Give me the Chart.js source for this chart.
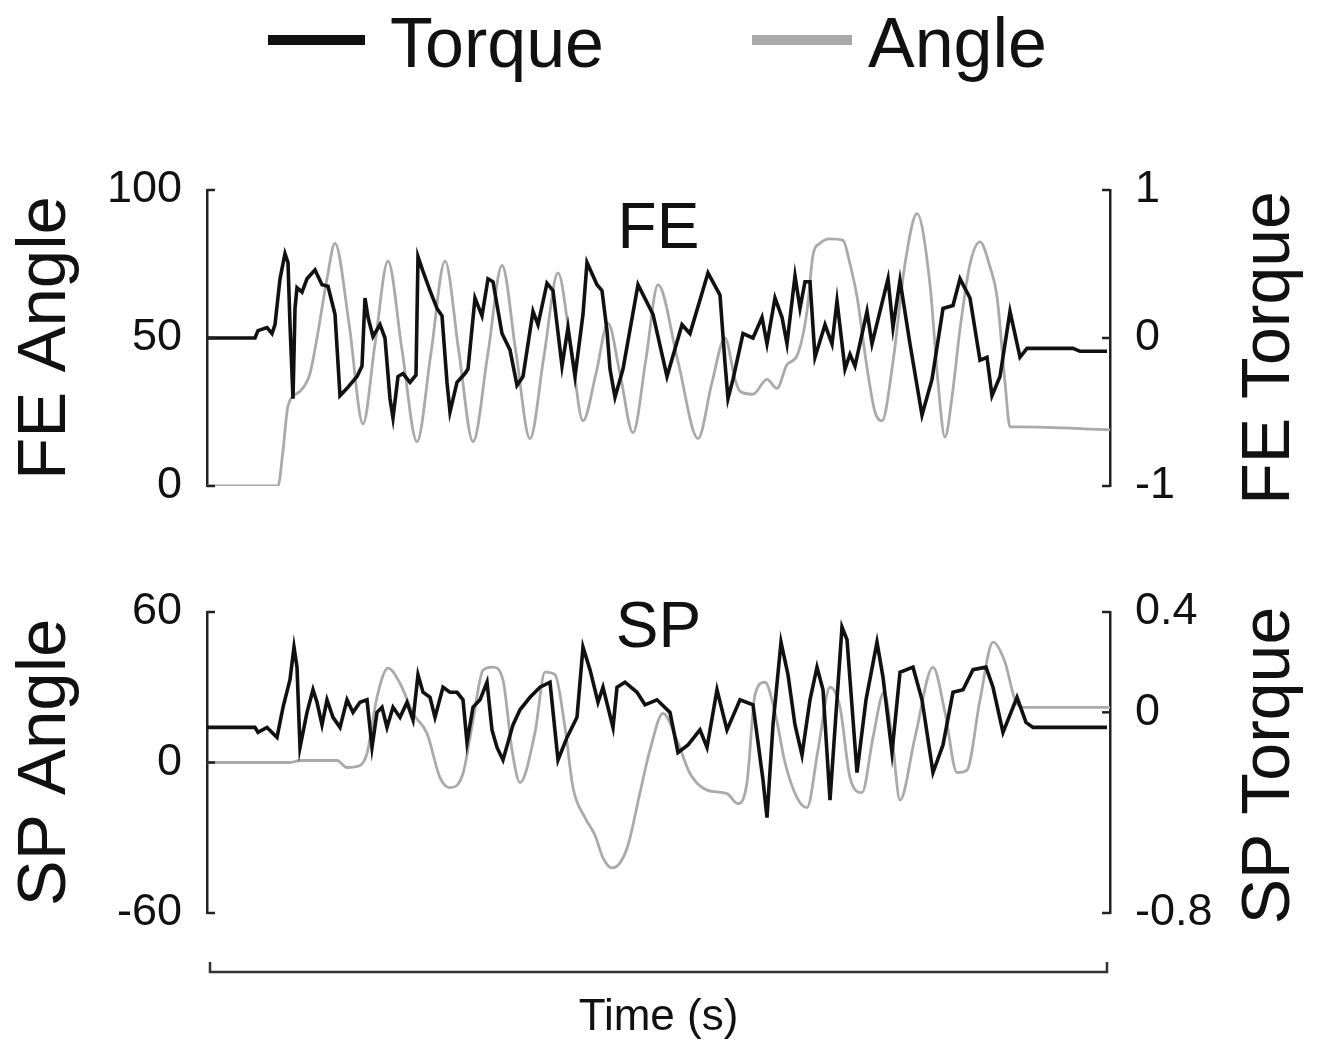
<!DOCTYPE html>
<html lang="en">
<head>
    <meta charset="UTF-8">
    <title>Torque and angle</title>
    <style>
        body { margin: 0; background: #fff; font-family: "Liberation Sans", Arial, sans-serif; }
        #app { position: relative; width: 1328px; height: 1048px; overflow: hidden; }
        .swatch { position: absolute; top: 35px; height: 10px; }
        .label { position: absolute; top: 8px; font-size: 70px; line-height: 70px; color: #111; }
        #fe_box { position: absolute; left: 0; top: 0; }
        #sp_box { position: absolute; left: 0; top: 530px; }
    </style>
</head>
<body>
<div id="app">
    <div class="swatch" style="left:268px; width:97px; background:#111;"></div>
    <div class="label" style="left:390px;">Torque</div>
    <div class="swatch" style="left:752px; width:100px; background:#aaa;"></div>
    <div class="label" style="left:868px;">Angle</div>

    <div id="fe_box"><canvas id="fe_chart" width="1328" height="530"></canvas></div>
    <div id="sp_box"><canvas id="sp_chart" width="1328" height="518"></canvas></div>
</div>

<script src="https://cdn.jsdelivr.net/npm/chart.js"></script>
<script>
    // time in s
    var feAngleTime = [0, 7.1, 7.6, 8.1, 9.3, 10.3, 11.0, 12.0, 12.8, 14.2, 15.6, 16.8, 18.1, 19.5, 21.0, 22.4, 23.8, 25.2, 26.6,
        28.1, 29.5, 30.9, 32.3, 33.7, 35.1, 36.4, 37.6, 38.9, 40.1, 41.3, 42.6, 43.9, 45.1, 47.1, 49.1, 50.5, 51.8, 52.8, 53.3,
        54.6, 56.0, 57.0, 58.0, 59.0, 60.0, 60.6, 61.3, 62.3, 63.6, 64.3, 65.0, 66.0, 66.8, 67.5, 68.6, 69.8, 71.0, 72.3, 73.1,
        73.8, 74.5, 75.3, 76.3, 77.3, 78.3, 79.0, 79.8, 80.3, 81.3, 90.3];
    var feAngle = [0, 0, 12, 27, 32, 38, 50, 70, 82, 55, 21, 48, 76, 46, 15, 45, 76, 45, 15,
        45, 74.5, 45, 16, 44, 72, 47, 22, 38, 55, 38, 18, 43, 68, 42, 16, 35, 50, 36, 32,
        31, 36, 33, 41, 44, 59, 78, 82, 83.5, 83, 75, 64, 40, 25, 22, 42, 75, 92, 68, 35,
        16.5, 30, 53, 75, 82.5, 74, 64, 35, 20, 20, 19];

    var feTorqueTime = [0, 4.8, 5.1, 6.0, 6.5, 6.8, 7.3, 7.8, 8.1, 8.3, 8.6, 8.8, 9.0, 9.5, 10.0, 10.8, 11.5, 12.1, 12.8, 13.0,
        13.3, 14.0, 15.0, 15.5, 15.8, 16.1, 16.6, 17.3, 17.8, 18.3, 18.6, 19.1, 19.6, 20.3, 20.9, 21.1, 21.6, 22.3, 23.0, 23.5,
        24.0, 24.3, 25.0, 25.8, 26.1, 26.8, 27.5, 28.1, 28.6, 29.5, 30.3, 31.0, 31.6, 32.6, 33.1, 34.0, 34.6, 35.5, 36.1, 36.8,
        37.6, 38.0, 39.0, 39.5, 40.0, 40.3, 40.8, 41.6, 43.1, 44.6, 46.0, 47.5, 48.3, 50.1, 51.3, 51.8, 52.1, 52.6, 53.6, 54.6,
        55.5, 56.0, 56.8, 57.5, 58.0, 58.8, 59.3, 59.8, 60.3, 60.8, 61.8, 62.5, 63.0, 63.8, 64.3, 64.8, 66.0, 66.5, 68.1, 68.6,
        69.3, 70.3, 71.5, 72.5, 73.6, 74.6, 75.3, 76.3, 77.3, 78.0, 78.5, 79.3, 80.3, 81.3, 82.0, 86.6, 87.3, 90.0];
    var feTorque = [0, 0, 0.05, 0.07, 0.03, 0.09, 0.40, 0.57, 0.51, 0.09, -0.41, 0.2, 0.34, 0.31, 0.40, 0.46, 0.36, 0.35, 0.16, -0.06,
        -0.39, -0.34, -0.26, -0.19, 0.27, 0.14, 0.01, 0.09, 0, -0.41, -0.54, -0.26, -0.24, -0.30, -0.25, 0.55, 0.45, 0.32, 0.20, 0.15,
        -0.30, -0.50, -0.30, -0.24, -0.21, 0.27, 0.15, 0.40, 0.38, 0.03, -0.08, -0.32, -0.26, 0.18, 0.09, 0.37, 0.32, -0.19, 0.07, -0.26,
        0.16, 0.51, 0.36, 0.32, 0.05, -0.21, -0.40, -0.21, 0.36, 0.16, -0.26, 0.09, 0.03, 0.44, 0.29, -0.17, -0.41, -0.28, 0.03, 0,
        0.14, -0.04, 0.27, 0.14, -0.04, 0.42, 0.2, 0.38, 0.38, -0.13, 0.09, -0.04, 0.25, -0.21, -0.11, -0.19, 0.18, -0.04, 0.40, 0.07,
        0.39, -0.04, -0.52, -0.28, 0.20, 0.22, 0.40, 0.27, -0.15, -0.13, -0.39, -0.26, 0.18, -0.13, -0.07, -0.07, -0.09, -0.09];

    var spAngleTime = [0, 8.3, 9.3, 13.0, 14.0, 15.3, 16.0, 17.0, 18.1, 19.3, 20.6, 22.0, 23.3, 24.3, 25.6, 26.6, 27.6, 28.6, 29.6, 30.5,
        31.3, 32.8, 33.8, 34.8, 35.8, 36.6, 37.8, 38.8, 39.6, 40.5, 41.3, 42.1, 43.3, 44.3, 45.6, 47.0, 48.3, 50.0, 52.0, 53.1,
        54.0, 54.8, 55.8, 56.8, 57.8, 59.0, 60.0, 61.1, 62.3, 63.3, 64.3, 65.5, 66.6, 67.7, 68.5, 69.3, 70.8, 72.6, 73.8, 75.0,
        76.0, 77.3, 78.6, 79.8, 80.8, 81.5, 90.3];
    var spAngle = [0, 0, 0.8, 0.8, -2, -1.2, 3.6, 26, 37.6, 31.6, 19.6, 11.6, -6, -10, -4.4, 16.8, 36.8, 38, 32.8, 5,
        -8, 12, 36, 35, 14, -10, -22, -29, -38, -42, -40, -33, -12, 5, 19.6, 8.8, -4.4, -11, -12.4, -16.4,
        -8, 27, 32, 20, 0, -14, -18, 5, 30, 22, -6, -12, 10, 28, 10, -15, 10, 38, 20, -4,
        -3, 25, 48, 40, 25, 22, 22];

    var spTorqueTime = [0, 4.8, 5.1, 6.0, 7.0, 7.6, 8.3, 8.7, 9.0, 9.3, 10.0, 10.6, 11.0, 11.5, 12.0, 12.6, 13.3, 14.0, 14.6, 15.3,
        16.0, 16.5, 17.0, 17.5, 18.0, 18.6, 19.3, 20.0, 20.6, 21.1, 21.6, 22.3, 22.8, 23.6, 24.3, 25.0, 25.6, 26.0, 26.6, 27.3,
        28.0, 28.5, 29.0, 29.6, 30.6, 31.3, 32.3, 33.3, 34.3, 35.1, 36.0, 37.0, 37.6, 38.3, 39.1, 39.6, 40.6, 41.0, 41.8, 43.0,
        43.8, 45.0, 46.3, 47.1, 48.1, 49.3, 50.0, 51.0, 52.0, 53.3, 54.6, 55.6, 56.0, 56.6, 57.4, 58.1, 58.8, 59.5, 60.3, 61.0,
        61.6, 62.3, 63.5, 64.0, 65.0, 65.9, 67.0, 67.6, 68.5, 69.3, 70.6, 71.5, 72.6, 73.6, 74.6, 75.6, 76.6, 77.9, 78.6, 79.6,
        81.0, 81.9, 82.6, 90.0];
    var spTorque = [-0.06, -0.06, -0.08, -0.06, -0.10, 0.02, 0.13, 0.26, 0.18, -0.14, 0, 0.09, 0.04, -0.05, 0.05, -0.02, -0.06, 0.05, 0, 0.04,
        0.05, -0.14, 0, 0.02, -0.06, 0.02, -0.02, 0.04, -0.03, 0.15, 0.08, 0.06, -0.02, 0.10, 0.08, 0.08, 0.05, -0.12, 0.02, 0.05,
        0.12, -0.07, -0.14, -0.19, -0.05, 0.01, 0.06, 0.10, 0.12, -0.19, -0.10, -0.02, 0.26, 0.17, 0.04, 0.10, -0.06, 0.10, 0.12, 0.08,
        0.03, 0.05, 0, -0.16, -0.13, -0.07, -0.14, 0.09, -0.07, 0.05, 0.03, -0.27, -0.42, -0.05, 0.28, 0.15, -0.05, -0.17, 0.05, 0.18,
        0.09, -0.35, 0.34, 0.29, -0.24, 0.05, 0.28, 0.14, -0.16, 0.16, 0.18, 0.05, -0.24, -0.13, 0.08, 0.09, 0.17, 0.18, 0.10, -0.08,
        0.06, -0.04, -0.06, -0.06];

    var timeRange = [0, 90.3];
    var feAngleTicks = [0, 50, 100];
    var feTorqueTicks = [-1, 0, 1];
    var spAngleTicks = [-60, 0, 60];
    var spTorqueTicks = [-0.8, 0, 0.4];

    var FONT = '"Liberation Sans", Arial, sans-serif';
    Chart.defaults.font.family = FONT;
    Chart.defaults.color = '#111';

    function pairs(t, v) {
        return t.map(function (x, i) { return { x: x, y: v[i] }; });
    }

    // axis spine with only the given ticks
    function yAxis(position, ticks, title, width) {
        return {
            type: 'linear',
            position: position,
            min: ticks[0],
            max: ticks[ticks.length - 1],
            afterBuildTicks: function (s) { s.ticks = ticks.map(function (v) { return { value: v }; }); },
            afterFit: function (s) { s.width = width; },
            grid: { display: false },
            border: { display: true, color: '#222', width: 2.5 },
            ticks: { font: { size: 45 }, padding: 17, color: '#111', callback: function (v) { return String(v); } },
            title: {
                display: title !== '',
                text: title,
                font: { size: 69, lineHeight: 1 },
                padding: { top: 11, bottom: 0 }
            }
        };
    }

    // inward tick stubs, panel name, right-hand label, time bracket
    var decor = {
        id: 'decor',
        afterDraw: function (chart, args, opts) {
            var ctx = chart.ctx, area = chart.chartArea;
            ctx.save();
            ctx.strokeStyle = '#222';
            ctx.lineWidth = 2.5;
            ['yA', 'yT'].forEach(function (id) {
                var s = chart.scales[id];
                var left = s.position === 'left';
                var x0 = left ? area.left : area.right;
                s.ticks.forEach(function (t) {
                    var y = s.getPixelForValue(t.value);
                    ctx.beginPath();
                    ctx.moveTo(x0, y);
                    ctx.lineTo(x0 + (left ? 8 : -8), y);
                    ctx.stroke();
                });
            });

            ctx.fillStyle = '#111';
            ctx.textAlign = 'center';
            ctx.textBaseline = 'alphabetic';
            ctx.font = '64px ' + FONT;
            ctx.fillText(opts.title, (area.left + area.right) / 2, area.top + opts.titleY);

            if (opts.bracket) {
                var xs = chart.scales.x;
                var x1 = xs.getPixelForValue(xs.min) + 3, x2 = xs.getPixelForValue(xs.max) - 3;
                var y = area.bottom + 59;
                ctx.strokeStyle = '#333';
                ctx.lineWidth = 2.5;
                ctx.beginPath();
                ctx.moveTo(x1, y - 10);
                ctx.lineTo(x1, y);
                ctx.lineTo(x2, y);
                ctx.lineTo(x2, y - 10);
                ctx.stroke();
            }

            var r = chart.scales.yT;
            ctx.translate(r.right - 58, (area.top + area.bottom) / 2 + opts.rightShift);
            ctx.rotate(-Math.PI / 2);
            ctx.textBaseline = 'middle';
            ctx.font = '68px ' + FONT;
            ctx.fillText(opts.rightTitle, 0, 0);
            ctx.restore();
        }
    };

    function panel(canvas, angleT, angleV, torqueT, torqueV, angleTicks, torqueTicks, name, showTime) {
        return new Chart(canvas, {
            type: 'line',
            data: {
                datasets: [{
                    label: 'Torque',
                    data: pairs(torqueT, torqueV),
                    yAxisID: 'yT',
                    borderColor: '#111',
                    borderWidth: 3.6,
                    pointRadius: 0,
                    tension: 0
                }, {
                    label: 'Angle',
                    data: pairs(angleT, angleV),
                    yAxisID: 'yA',
                    borderColor: '#aaa',
                    borderWidth: 2.8,
                    pointRadius: 0,
                    cubicInterpolationMode: 'monotone'
                }]
            },
            options: {
                responsive: false,
                animation: false,
                layout: { padding: { top: showTime ? 82 : 190, bottom: showTime ? 0 : 37, left: 0, right: 0 } },
                plugins: {
                    legend: { display: false },
                    tooltip: { enabled: false },
                    decor: {
                        title: name,
                        titleY: showTime ? 35 : 58,
                        rightTitle: name + ' Torque',
                        rightShift: showTime ? 3 : 10,
                        bracket: showTime
                    }
                },
                scales: {
                    x: {
                        type: 'linear',
                        min: timeRange[0],
                        max: timeRange[1],
                        display: showTime,
                        afterFit: function (s) { s.height = showTime ? 135 : 0; },
                        ticks: { display: false },
                        grid: { display: false },
                        border: { display: false },
                        title: {
                            display: true,
                            text: 'Time (s)',
                            font: { size: 44, lineHeight: 1 },
                            padding: { top: 0, bottom: 8 }
                        }
                    },
                    yA: yAxis('left', angleTicks, name + ' Angle', 207),
                    yT: yAxis('right', torqueTicks, '', 218)
                }
            },
            plugins: [decor]
        });
    }

    panel(document.getElementById('fe_chart'), feAngleTime, feAngle, feTorqueTime, feTorque,
        feAngleTicks, feTorqueTicks, 'FE', false);
    panel(document.getElementById('sp_chart'), spAngleTime, spAngle, spTorqueTime, spTorque,
        spAngleTicks, spTorqueTicks, 'SP', true);
</script>
</body>
</html>
